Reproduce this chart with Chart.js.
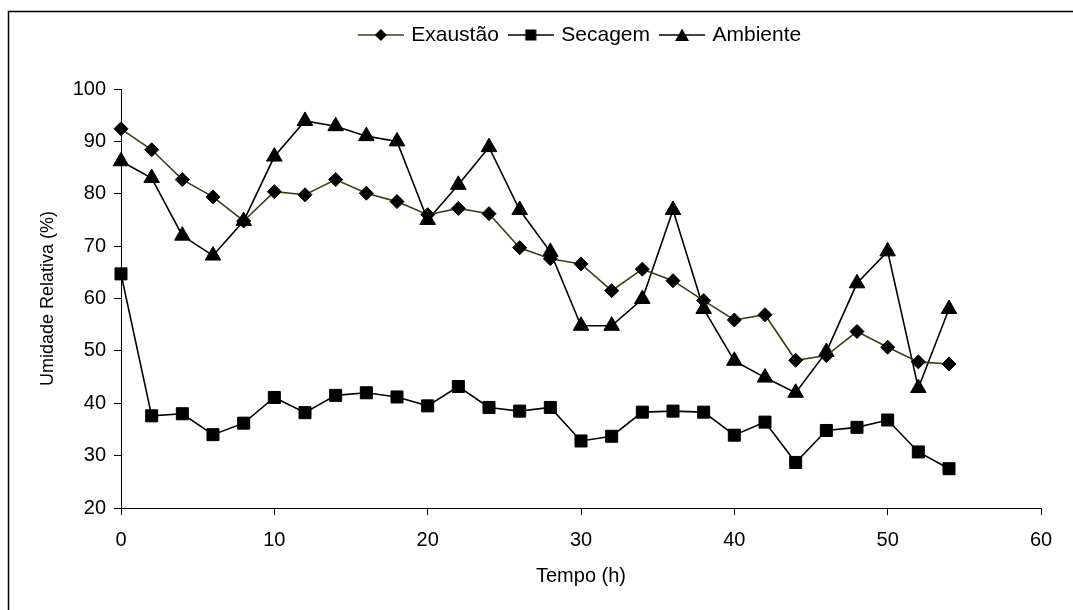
<!DOCTYPE html>
<html>
<head>
<meta charset="utf-8">
<script src="https://cdn.jsdelivr.net/npm/chart.js@4/dist/chart.umd.min.js"></script>
<style>
  body { margin: 0; background: #fff; }
</style>
</head>
<body>
<canvas id="chart" width="1073" height="610"></canvas>
<script>
const horas = [0, 2, 4, 6, 8, 10, 12, 14, 16, 18, 20, 22, 24, 26, 28, 30, 32, 34, 36, 38, 40, 42, 44, 46, 48, 50, 52, 54];
const exaustao = [92.4, 88.4, 82.7, 79.4, 74.8, 80.4, 79.8, 82.7, 80.1, 78.5, 76.0, 77.2, 76.2, 69.7, 67.6, 66.6, 61.5, 65.6, 63.4, 59.6, 55.9, 56.9, 48.2, 49.1, 53.7, 50.7, 47.9, 47.5];
const secagem = [64.7, 37.6, 38.0, 34.0, 36.2, 41.1, 38.2, 41.5, 42.0, 41.2, 39.5, 43.2, 39.2, 38.5, 39.2, 32.8, 33.7, 38.3, 38.5, 38.3, 33.9, 36.4, 28.7, 34.8, 35.4, 36.8, 30.7, 27.5];
const ambiente = [86.2, 83.0, 72.0, 68.2, 74.8, 87.1, 93.9, 92.9, 91.0, 90.0, 75.0, 81.7, 88.9, 76.9, 68.9, 54.8, 54.8, 59.9, 76.9, 58.0, 48.1, 44.9, 42.0, 49.8, 62.9, 69.0, 42.9, 58.0];

const fonte = "'Liberation Sans', Arial, sans-serif";
const olive = "#3f3f14";

// legend symbol: short line with the marker in the middle, like the original
function legendSymbol(lineColor, shape) {
  const c = document.createElement("canvas");
  c.width = 46;
  c.height = 16;
  const g = c.getContext("2d");
  g.strokeStyle = lineColor;
  g.lineWidth = 1.5;
  g.beginPath();
  g.moveTo(0, 8);
  g.lineTo(46, 8);
  g.stroke();
  g.fillStyle = "#000";
  g.beginPath();
  if (shape === "diamond") {
    g.moveTo(23, 2); g.lineTo(29, 8); g.lineTo(23, 14); g.lineTo(17, 8);
  } else if (shape === "square") {
    g.rect(17.5, 2.5, 11, 11);
  } else {
    g.moveTo(23, 1.5); g.lineTo(30, 14); g.lineTo(16, 14);
  }
  g.closePath();
  g.fill();
  return c;
}

function pontos(valores) {
  return horas.map((h, i) => ({ x: h, y: valores[i] }));
}

const moldura = {
  id: "moldura",
  beforeDraw(chart) {
    const ctx = chart.ctx;
    ctx.save();
    ctx.fillStyle = "#fff";
    ctx.fillRect(0, 0, chart.width, chart.height);
    ctx.strokeStyle = "#000";
    ctx.lineWidth = 1.5;
    ctx.strokeRect(8.5, 11.5, 1200, 800);
    ctx.restore();
  },
};

const chart = new Chart(document.getElementById("chart"), {
  type: "line",
  data: {
    datasets: [
      {
        label: "Exaustão",
        data: pontos(exaustao),
        borderColor: olive,
        backgroundColor: "#000",
        pointBorderColor: "#000",
        pointStyle: "rectRot",
        pointRadius: 7,
        legendSymbol: legendSymbol(olive, "diamond"),
      },
      {
        label: "Secagem",
        data: pontos(secagem),
        borderColor: "#000",
        backgroundColor: "#000",
        pointBorderColor: "#000",
        pointStyle: "rect",
        pointRadius: 8.5,
        legendSymbol: legendSymbol("#000", "square"),
      },
      {
        label: "Ambiente",
        data: pontos(ambiente),
        borderColor: "#000",
        backgroundColor: "#000",
        pointBorderColor: "#000",
        pointStyle: "triangle",
        pointRadius: 9,
        legendSymbol: legendSymbol("#000", "triangle"),
      },
    ],
  },
  options: {
    responsive: false,
    animation: false,
    font: { family: fonte, size: 20 },
    color: "#000",
    datasets: {
      line: { borderWidth: 1.6, tension: 0, clip: false, pointBorderWidth: 1 },
    },
    layout: { padding: { top: 12.5, right: 32, bottom: 0, left: 0 } },
    plugins: {
      legend: {
        position: "top",
        fullSize: false,
        labels: {
          color: "#000",
          font: { family: fonte, size: 21 },
          usePointStyle: true,
          pointStyleWidth: 40,
          padding: 12,
          generateLabels(chart) {
            return chart.data.datasets.map((ds, i) => ({
              text: ds.label,
              pointStyle: ds.legendSymbol,
              fillStyle: "#000",
              strokeStyle: "#000",
              lineWidth: 0,
              fontColor: "#000",
              datasetIndex: i,
              hidden: false,
            }));
          },
        },
      },
      subtitle: {
        display: true,
        text: "",
        fullSize: false,
        weight: 500,
        font: { size: 10 },
        padding: { top: 0, bottom: 21.5 },
      },
      tooltip: { enabled: false },
    },
    scales: {
      x: {
        type: "linear",
        min: 0,
        max: 60,
        ticks: { stepSize: 10, color: "#000", padding: 13, font: { family: fonte, size: 20 } },
        grid: { drawOnChartArea: false, drawTicks: true, tickLength: 7, color: "#000" },
        border: { color: "#000", width: 1 },
        title: {
          display: true,
          text: "Tempo (h)",
          color: "#000",
          font: { family: fonte, size: 20 },
          padding: { top: 0, bottom: 22 },
        },
        afterFit(scale) {
          scale.height = 102;
        },
      },
      y: {
        min: 20,
        max: 100,
        ticks: { stepSize: 10, color: "#000", padding: 8, font: { family: fonte, size: 20 } },
        grid: { drawOnChartArea: false, drawTicks: true, tickLength: 7, color: "#000" },
        border: { color: "#000", width: 1 },
        title: {
          display: true,
          text: "Umidade Relativa (%)",
          color: "#000",
          font: { family: fonte, size: 18 },
          padding: { top: 37, bottom: 0 },
        },
        afterFit(scale) {
          scale.width = 121;
        },
      },
    },
  },
  plugins: [moldura],
});
</script>
</body>
</html>
